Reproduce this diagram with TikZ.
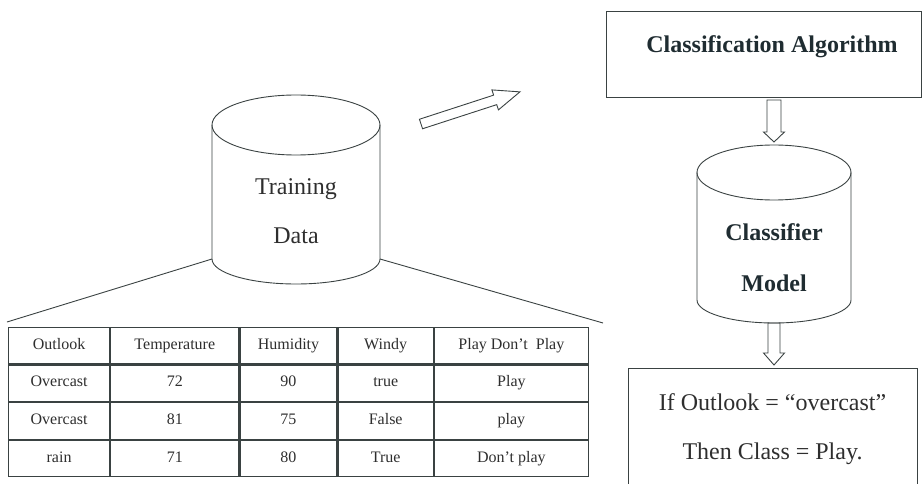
\documentclass[tikz,border=0pt]{standalone}
\usepackage{fontspec}
\setmainfont{Liberation Serif}
\usetikzlibrary{matrix}

\definecolor{inkline}{HTML}{3A4242}
\definecolor{inktext}{HTML}{2E2E2E}
\definecolor{inkbold}{HTML}{1F2C31}

\begin{document}
\begin{tikzpicture}[
        x=1pt, y=1pt,
        every node/.style={text=inktext},
        storeline/.style={draw=inkline, line width=0.9pt},
        blockarrow/.style={draw=inkline, line width=0.9pt, line join=miter},
        box/.style={rectangle, draw=inkline, line width=0.9pt, inner sep=0pt},
        big/.style={font=\fontsize{24}{49}\selectfont},
        bigbold/.style={font=\fontsize{24}{51}\selectfont\bfseries, text=inkbold},
        cell/.style={draw=inkline, line width=1.2pt, inner sep=0pt, outer sep=0pt,
            minimum height=36.5pt, text height=11pt, text depth=3.5pt,
            anchor=center, font=\fontsize{16}{19}\selectfont}
    ]
    \useasboundingbox (0,0) rectangle (924,-484);

    % =====================================================
    % Left: training data and its table
    % =====================================================
    % Cylinder for the training set
    \draw[storeline] (296,-125) ellipse [x radius=84, y radius=30];
    \draw[storeline] (212,-125) -- (212,-259)
        arc[start angle=180, end angle=360, x radius=84, y radius=25] -- (380,-125);
    \coordinate (trainbl) at (212,-259);
    \coordinate (trainbr) at (380,-259);
    \node[big, align=center, anchor=base] (trainlabel) at (296,-243) {Training\\Data};

    \coordinate (tabl) at (7,-322);
    \coordinate (tabr) at (603,-323);
    \draw[storeline] (trainbl) -- (tabl);
    \draw[storeline] (trainbr) -- (tabr);

    \matrix (weather) [matrix of nodes, nodes={cell}, column sep=0pt, row sep=0pt,
        column 1/.style={nodes={minimum width=101pt}},
        column 2/.style={nodes={minimum width=128pt}},
        column 3/.style={nodes={minimum width=97pt}},
        column 4/.style={nodes={minimum width=95pt}},
        column 5/.style={nodes={minimum width=154pt}}]
        at (298.5,-402) {
        Outlook  & Temperature & Humidity & Windy & Play Don't\ \ Play \\
        Overcast & 72 & 90 & true  & Play \\
        Overcast & 81 & 75 & False & play \\
        rain     & 71 & 80 & True  & Don't play \\
    };

    % Arrow towards the algorithm
    \coordinate (feedtail) at (421,-124);
    \draw[blockarrow, shift={(feedtail)}, rotate=18]
        (0,-5) -- (78,-5) -- (78,-10.5) -- (104,0) -- (78,10.5) -- (78,5) -- (0,5) -- cycle;

    % =====================================================
    % Right: algorithm, model and rule
    % =====================================================
    \node[box, minimum width=315pt, minimum height=86pt] (algbox) at (763.5,-54) {};
    \node[bigbold, anchor=base] (algtext) at (772,-53) {Classification Algorithm};

    % Cylinder for the learned model
    \draw[storeline] (774,-172.5) ellipse [x radius=77, y radius=27.5];
    \draw[storeline] (697,-172.5) -- (697,-300)
        arc[start angle=180, end angle=360, x radius=77, y radius=23] -- (851,-172.5);
    \coordinate (modeltop) at (774,-145);
    \coordinate (modelbot) at (774,-323);
    \node[bigbold, align=center, anchor=base] (modellabel) at (774,-291) {Classifier\\Model};

    % Hollow arrows above and below the model
    \draw[blockarrow, shift={(modeltop)}]
        (-7,45) -- (-7,13) -- (-10.5,13) -- (0,3) -- (10.5,13) -- (7,13) -- (7,45) -- cycle;
    \draw[blockarrow, shift={(modelbot)}]
        (-6,0) -- (-6,-30) -- (-10.5,-30) -- (0,-42) -- (10.5,-30) -- (6,-30) -- (6,0) -- cycle;

    \node[box, big, align=center, minimum width=289pt, minimum height=122pt]
        (rule) at (772.5,-429) {If Outlook = “overcast”\\Then Class = Play.};

\end{tikzpicture}
\end{document}
